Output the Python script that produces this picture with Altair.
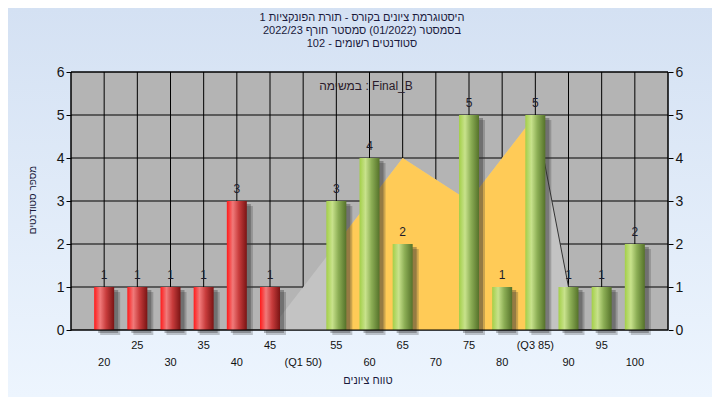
import altair as alt
import pandas as pd

# ---- data ----
categories = [20, 25, 30, 35, 40, 45, 50, 55, 60, 65, 70, 75, 80, 85, 90, 95, 100]
counts = [1, 1, 1, 1, 3, 1, 0, 3, 4, 2, 0, 5, 1, 5, 1, 1, 2]
tick_labels = ["20", "25", "30", "35", "40", "45", "(Q1 50)", "55", "60", "65",
               "70", "75", "80", "(Q3 85)", "90", "95", "100"]
area_x = [45, 50, 55, 60, 65, 70, 75, 80, 85, 90]
area_y = [0, 1, 2, 3, 4, 3.5, 3, 4, 5, 1]
iqr_low, iqr_high = 55, 85
grid_x = [15, 20, 25, 30, 35, 40, 45, 50, 55, 60, 65, 70, 75, 80, 85, 90, 95, 100, 105]
grid_y = [0, 1, 2, 3, 4, 5, 6]
title_lines = ["היסטוגרמת ציונים בקורס - תורת הפונקציות 1",
               "בסמסטר (01/2022)  סמסטר חורף 2022/23",
               "סטודנטים רשומים - 102"]
series_label = "במשימה : Final_B"
x_title = "טווח ציונים"
y_title = "מספר סטודנטים"

FONT = "Liberation Sans"
W, H = 597, 258

bars = pd.DataFrame({"x": categories, "n": counts, "lab": tick_labels})
bars["idx"] = range(len(bars))
area = pd.DataFrame({"x": area_x, "y": area_y})
gx = pd.DataFrame({"gx": grid_x})
gy = pd.DataFrame({"gy": grid_y})
one = pd.DataFrame({"k": [0]})

xs = alt.Scale(domain=[15, 105], nice=False, zero=False, padding=0)
ys = alt.Scale(domain=[0, 6], nice=False, padding=0)

bg_grad = alt.Gradient(gradient="linear", x1=0, y1=0, x2=0, y2=1,
                       stops=[alt.GradientStop(color="#D4E1F3", offset=0),
                              alt.GradientStop(color="#EDF5FE", offset=1)])
red_grad = alt.Gradient(gradient="linear", x1=0, y1=0, x2=1, y2=0,
                        stops=[alt.GradientStop(color="#FF1A1A", offset=0),
                               alt.GradientStop(color="#F07A7A", offset=0.3),
                               alt.GradientStop(color="#C83C3C", offset=0.6),
                               alt.GradientStop(color="#7A1414", offset=1)])
green_grad = alt.Gradient(gradient="linear", x1=0, y1=0, x2=1, y2=0,
                          stops=[alt.GradientStop(color="#A3CF48", offset=0),
                                 alt.GradientStop(color="#C8E28C", offset=0.3),
                                 alt.GradientStop(color="#8CAE55", offset=0.6),
                                 alt.GradientStop(color="#55722A", offset=1)])

def yaxis(orient):
    return alt.Axis(values=grid_y, orient=orient, tickSize=5, tickColor="black",
                    domain=False, grid=False, title=None, labelFontSize=14,
                    labelFont=FONT, labelColor="#151515", labelPadding=2, zindex=2)

background = alt.Chart(one).mark_rect(fill=bg_grad).encode(
    x=alt.value(-63), x2=alt.value(W + 44), y=alt.value(-64), y2=alt.value(H + 67))

plot_bg = alt.Chart(one).mark_rect(fill="#B4B4B4").encode(
    x=alt.value(0), x2=alt.value(W), y=alt.value(0), y2=alt.value(H))

vgrid = alt.Chart(gx).mark_rule(color="black", strokeWidth=1).encode(
    x=alt.X("gx:Q", scale=xs, axis=alt.Axis(values=grid_x, labels=False, tickSize=5,
                                            tickColor="black", domain=False, grid=False,
                                            title=None, orient="bottom", zindex=2)),
    y=alt.value(0), y2=alt.value(H))

hgrid = alt.Chart(gy).mark_rule(color="black", strokeWidth=1).encode(
    y=alt.Y("gy:Q", scale=ys, axis=yaxis("right")),
    x=alt.value(0), x2=alt.value(W))

grey_area = alt.Chart(area).mark_area(color="#C3C3C3", opacity=1).encode(
    x=alt.X("x:Q", scale=xs, axis=None), y=alt.Y("y:Q", scale=ys, axis=None))

yellow_area = alt.Chart(area).transform_filter(
    (alt.datum.x >= iqr_low) & (alt.datum.x <= iqr_high)
).mark_area(color="#FFCB57", opacity=1).encode(
    x=alt.X("x:Q", scale=xs, axis=None), y=alt.Y("y:Q", scale=ys, axis=None))

edge_line = alt.Chart(area).transform_filter(alt.datum.x >= iqr_high).mark_line(
    color="#333333", strokeWidth=1).encode(
    x=alt.X("x:Q", scale=xs, axis=None), y=alt.Y("y:Q", scale=ys, axis=None))

nz = bars[bars["n"] > 0]

shadow1 = alt.Chart(nz).mark_bar(size=20, xOffset=6, yOffset=5, color="#303030",
                                 opacity=0.25).encode(
    x=alt.X("x:Q", scale=xs, axis=None), y=alt.Y("n:Q", scale=ys, axis=None))
shadow2 = alt.Chart(nz).mark_bar(size=20, xOffset=4, yOffset=3, color="#303030",
                                 opacity=0.35).encode(
    x=alt.X("x:Q", scale=xs, axis=None), y=alt.Y("n:Q", scale=ys, axis=None))

red_bars = alt.Chart(nz).transform_filter(alt.datum.x < 50).mark_bar(
    size=20, fill=red_grad).encode(
    x=alt.X("x:Q", scale=xs, axis=None),
    y=alt.Y("n:Q", scale=ys, axis=yaxis("left")))
green_bars = alt.Chart(nz).transform_filter(alt.datum.x > 50).mark_bar(
    size=20, fill=green_grad).encode(
    x=alt.X("x:Q", scale=xs, axis=None), y=alt.Y("n:Q", scale=ys, axis=None))

bar_text = alt.Chart(nz).mark_text(dy=-12, fontSize=12, font=FONT, color="#1c1c2c").encode(
    x=alt.X("x:Q", scale=xs, axis=None), y=alt.Y("n:Q", scale=ys, axis=None),
    text="n:Q")

border = alt.Chart(one).mark_rect(fill=None, stroke="black", strokeWidth=1).encode(
    x=alt.value(0), x2=alt.value(W), y=alt.value(0), y2=alt.value(H))

row1 = alt.Chart(bars).transform_filter(alt.datum.idx % 2 == 1).mark_text(
    fontSize=11, font=FONT, color="#111111", baseline="middle").encode(
    x=alt.X("x:Q", scale=xs, axis=None), y=alt.value(H + 16), text="lab:N")
row2 = alt.Chart(bars).transform_filter(alt.datum.idx % 2 == 0).mark_text(
    fontSize=11, font=FONT, color="#111111", baseline="middle").encode(
    x=alt.X("x:Q", scale=xs, axis=None), y=alt.value(H + 33), text="lab:N")

title = alt.Chart(one).mark_text(text=title_lines, fontSize=11, font=FONT,
                                 color="#1a1a3c", lineHeight=13, baseline="top",
                                 align="center").encode(
    x=alt.value(291), y=alt.value(-60))
legend_txt = alt.Chart(one).mark_text(text=series_label, fontSize=12, font=FONT,
                                      color="#2a1a2a", baseline="middle",
                                      align="center").encode(
    x=alt.value(295), y=alt.value(14))
xt = alt.Chart(one).mark_text(text=x_title, fontSize=11, font=FONT, color="#1a1a3c",
                              baseline="middle", align="center").encode(
    x=alt.value(297), y=alt.value(H + 51))
yt = alt.Chart(one).mark_text(text=y_title, fontSize=10, font=FONT, color="#1a1a3c",
                              baseline="middle", align="center", angle=270).encode(
    x=alt.value(-38), y=alt.value(128))

chart = alt.layer(
    background, plot_bg, vgrid, hgrid, grey_area, yellow_area, edge_line,
    shadow1, shadow2, red_bars, green_bars, bar_text, border,
    row1, row2, title, legend_txt, xt, yt
).resolve_axis(y="independent").properties(
    width=W, height=H,
    autosize=alt.AutoSizeParams(type="none"),
    padding={"left": 63, "top": 64, "right": 44, "bottom": 67},
    background="#E2ECF8",
).configure_view(stroke=None)

chart.save("out.html", embed_options={"renderer": "svg", "actions": False})
